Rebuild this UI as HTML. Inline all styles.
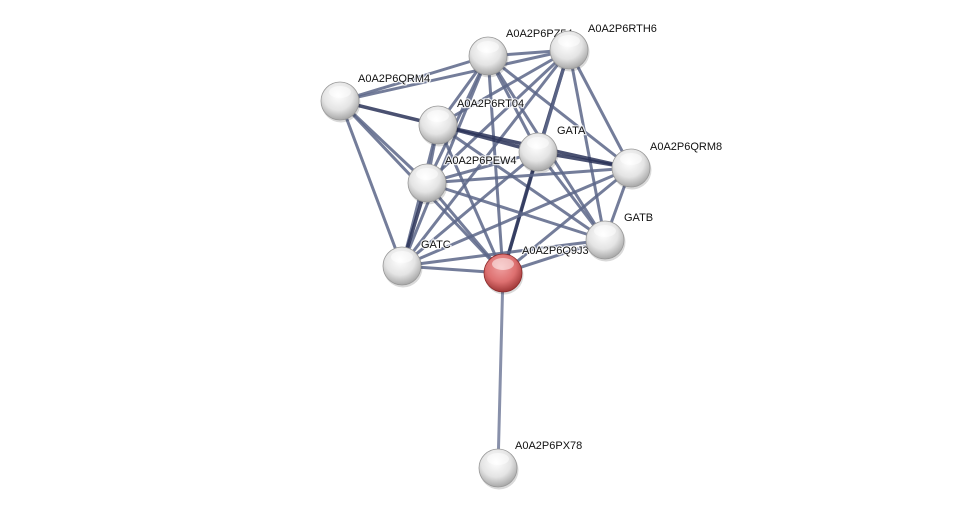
<!DOCTYPE html>
<html><head><meta charset="utf-8"><style>
html,body{margin:0;padding:0;background:#fff;}
svg text{font-family:"Liberation Sans",sans-serif;font-size:11px;fill:#111;stroke:#fff;stroke-width:2.5px;paint-order:stroke;stroke-opacity:0.8;}
</style></head><body>
<svg width="976" height="513" viewBox="0 0 976 513" xmlns="http://www.w3.org/2000/svg">
<defs>
<radialGradient id="w" cx="0.45" cy="0.35" r="0.65">
<stop offset="0" stop-color="#ffffff"/><stop offset="0.6" stop-color="#e4e4e4"/><stop offset="1" stop-color="#a8a8a8"/></radialGradient>
<radialGradient id="r" cx="0.45" cy="0.35" r="0.65">
<stop offset="0" stop-color="#f0a0a0"/><stop offset="0.6" stop-color="#dd7070"/><stop offset="1" stop-color="#a03838"/></radialGradient>
</defs>
<g id="edges" stroke-linecap="round"></g>
<g id="labels">
<text x="506" y="37">A0A2P6PZ54</text>
<text x="588" y="32">A0A2P6RTH6</text>
<text x="358" y="82">A0A2P6QRM4</text>
<text x="457" y="107">A0A2P6RT04</text>
<text x="557" y="134">GATA</text>
<text x="650" y="150">A0A2P6QRM8</text>
<text x="445" y="164">A0A2P6PEW4</text>
<text x="624" y="221">GATB</text>
<text x="421" y="248">GATC</text>
<text x="522" y="254">A0A2P6Q9J3</text>
<text x="515" y="449">A0A2P6PX78</text>
</g>
<g id="nodes"></g>
</svg>
<script>
var N={pz:[488,56],rth6:[569,50],qrm4:[340,101],rt04:[438,125],gata:[538,152],qrm8:[631,168],pew4:[427,183],gatb:[605,240],gatc:[402,266],red:[503,273],px78:[498,468]};
var dark={"qrm4-rt04":1,"rt04-gata":1,"rth6-gata":1,"gata-red":1,"pew4-gatc":1,"gata-qrm8":1,"rt04-qrm8":1};
var keys=["pz","rth6","qrm4","rt04","gata","qrm8","pew4","gatb","gatc","red"];
var skip={"qrm4-qrm8":1,"qrm4-gatb":1,"qrm4-gata":1};
var eg=document.getElementById('edges'),s="";
for(var i=0;i<keys.length;i++)for(var j=i+1;j<keys.length;j++){var k=keys[i]+"-"+keys[j];if(skip[k])continue;var a=N[keys[i]],b=N[keys[j]];
s+='<line x1="'+a[0]+'" y1="'+a[1]+'" x2="'+b[0]+'" y2="'+b[1]+'" stroke="'+(dark[k]?'#2a3358':'#5c6688')+'" stroke-opacity="0.85" stroke-width="'+(dark[k]?3.5:3)+'"/>';}
s+='<line x1="503" y1="273" x2="498" y2="468" stroke="#8890aa" stroke-width="3"/>';
eg.innerHTML=s;
var ng=document.getElementById('nodes'),t="";
for(var n in N){var p=N[n];t+='<circle cx="'+(p[0]+1)+'" cy="'+(p[1]+2)+'" r="19.5" fill="#000" opacity="0.15"/><circle cx="'+p[0]+'" cy="'+p[1]+'" r="19" fill="url(#'+(n=="red"?"r":"w")+')" stroke="'+(n=="red"?"#8a2a2a":"#999")+'" stroke-width="0.8"/><ellipse cx="'+p[0]+'" cy="'+(p[1]-9)+'" rx="11" ry="6" fill="#fff" opacity="0.5"/>';}
ng.innerHTML=t;
</script>
</body></html>
